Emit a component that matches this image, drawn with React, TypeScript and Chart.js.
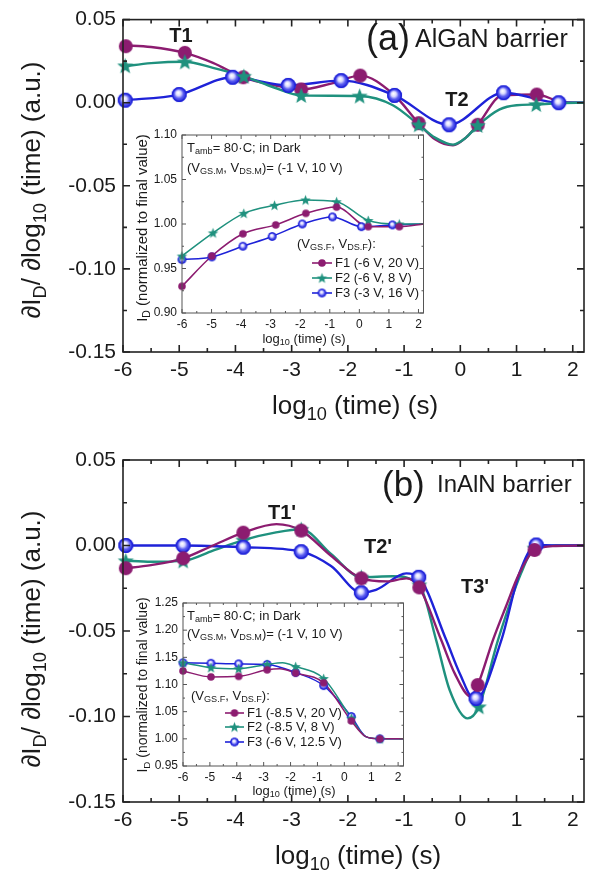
import React, { useEffect, useRef } from 'react';
import { Chart, registerables } from 'chart.js';
Chart.register(...registerables);

const FONT = "'Liberation Sans', Arial, Helvetica, sans-serif";
const PURPLE = '#8c1c70';
const GREEN = '#1f917e';
const BLUE = '#1e22d8';
const INK = '#1a1a1a';

// ---------- tick labels ----------
const mainXTicks = [-6, -5, -4, -3, -2, -1, 0, 1, 2];
const mainYTicks = [-0.15, -0.1, -0.05, 0, 0.05];
const insetXTicks = [-6, -5, -4, -3, -2, -1, 0, 1, 2];
const insetAYTicks = [0.9, 0.95, 1.0, 1.05, 1.1];
const insetBYTicks = [0.95, 1.0, 1.05, 1.1, 1.15, 1.2, 1.25];

const legendALabels = ['F1 (-6 V, 20 V)', 'F2 (-6 V, 8 V)', 'F3 (-3 V, 16 V)'];
const legendBLabels = ['F1 (-8.5 V, 20 V)', 'F2 (-8.5 V, 8 V)', 'F3 (-6 V, 12.5 V)'];

// ---------- panel (a) AlGaN main ----------
const aF1MarkX = [-5.95, -4.9, -3.86, -2.83, -1.78, -0.74, 0.31, 1.36];
const aF1MarkY = [0.034, 0.030, 0.0153, 0.008, 0.0163, -0.0123, -0.0133, 0.0049];
const aF1LineX = [-6, -5.5, -4.9, -4.4, -3.86, -3.3, -2.83, -2.3, -1.78, -1.2, -0.74, -0.45, -0.13, 0.1, 0.31, 0.75, 1.36, 1.8, 2.2];
const aF1LineY = [0.0345, 0.0335, 0.030, 0.024, 0.0153, 0.0105, 0.008, 0.0115, 0.0163, 0.0054, -0.0123, -0.022, -0.0256, -0.021, -0.0133, 0.0045, 0.0049, 0.0005, 0];

const aF2MarkX = [-5.96, -4.9, -3.85, -2.83, -1.79, -0.74, 0.31, 1.35];
const aF2MarkY = [0.0222, 0.0246, 0.0159, 0.0044, 0.004, -0.0133, -0.0137, -0.0011];
const aF2LineX = [-6, -5.5, -4.9, -4.4, -3.85, -3.3, -2.83, -2.3, -1.79, -1.2, -0.74, -0.45, -0.13, 0.1, 0.31, 0.7, 1.0, 1.35, 1.8, 2.2];
const aF2LineY = [0.0218, 0.0238, 0.0246, 0.021, 0.0159, 0.009, 0.0044, 0.0042, 0.004, -0.0015, -0.0133, -0.021, -0.0252, -0.021, -0.0137, -0.004, -0.0015, -0.0011, -0.0002, 0];

const aF3MarkX = [-5.96, -5.0, -4.05, -3.06, -2.12, -1.17, -0.2, 0.77, 1.75];
const aF3MarkY = [0.0015, 0.0049, 0.0153, 0.0104, 0.0133, 0.0044, -0.0133, 0.006, 0.0];
const aF3LineX = [-6, -5.0, -4.05, -3.06, -2.12, -1.17, -0.2, 0.77, 1.75, 2.2];
const aF3LineY = [0.0014, 0.0049, 0.0153, 0.0104, 0.0133, 0.0044, -0.0133, 0.006, 0.0, 0];

// ---------- panel (b) InAlN main ----------
const bF1MarkX = [-5.95, -4.93, -3.86, -2.83, -1.76, -0.73, 0.31, 1.32];
const bF1MarkY = [-0.0133, -0.0075, 0.0075, 0.0087, -0.0192, -0.0245, -0.0816, -0.0026];
const bF1LineX = [-6, -5.5, -4.93, -4.4, -3.86, -3.27, -2.83, -2.3, -1.76, -1.3, -0.96, -0.73, -0.34, -0.1, 0.19, 0.31, 0.58, 0.81, 1.05, 1.32, 1.7, 2.2];
const bF1LineY = [-0.0135, -0.0115, -0.0075, 0.0, 0.0075, 0.0125, 0.0087, -0.006, -0.0192, -0.021, -0.0192, -0.0245, -0.0553, -0.0748, -0.0884, -0.0816, -0.0553, -0.0358, -0.0163, -0.0026, -0.0003, 0];

const bF2MarkX = [-5.95, -4.93, -3.86, -2.83, -1.76, -0.73, 0.33, 1.32];
const bF2MarkY = [-0.0089, -0.009, 0.0032, 0.0095, -0.0185, -0.023, -0.0943, -0.0015];
const bF2LineX = [-6, -5.5, -4.93, -4.4, -3.86, -3.3, -2.83, -2.3, -1.76, -1.2, -0.73, -0.43, -0.19, 0.13, 0.33, 0.67, 1.08, 1.32, 1.7, 2.2];
const bF2LineY = [-0.0088, -0.0095, -0.009, -0.003, 0.0032, 0.0075, 0.0095, -0.005, -0.0185, -0.018, -0.023, -0.0553, -0.0845, -0.1011, -0.0943, -0.0553, -0.0163, -0.0015, 0, 0];

const bF3MarkX = [-5.95, -4.93, -3.86, -2.83, -1.76, -0.74, 0.28, 1.35];
const bF3MarkY = [0.0, 0.0, -0.001, -0.0036, -0.0276, -0.0186, -0.0895, 0.0003];
const bF3LineX = [-6, -4.93, -3.86, -2.83, -2.3, -1.76, -1.5, -0.96, -0.74, -0.25, -0.01, 0.26, 0.73, 1.05, 1.35, 1.7, 2.2];
const bF3LineY = [0, 0, -0.001, -0.0036, -0.012, -0.0276, -0.026, -0.0163, -0.0186, -0.0553, -0.0748, -0.0905, -0.0553, -0.0163, 0.0003, 0, 0];

// ---------- inset (a) ----------
const iaF1MarkX = [-6.0, -4.99, -3.94, -2.83, -1.81, -0.77, 0.30, 1.35];
const iaF1MarkY = [0.930, 0.964, 0.989, 0.999, 1.012, 1.019, 0.997, 0.997];
const iaF1LineX = [-6.0, -4.99, -3.94, -2.83, -1.81, -0.77, 0.30, 1.35, 2.2];
const iaF1LineY = [0.930, 0.964, 0.989, 0.999, 1.012, 1.019, 0.997, 0.997, 1.0];

const iaF2MarkX = [-6.0, -4.95, -3.91, -2.87, -1.82, -0.77, 0.30, 1.35];
const iaF2MarkY = [0.964, 0.990, 1.012, 1.021, 1.027, 1.025, 1.004, 1.000];
const iaF2LineX = [-6.0, -4.95, -3.91, -2.87, -1.82, -0.77, 0.30, 1.35, 2.2];
const iaF2LineY = [0.964, 0.990, 1.012, 1.021, 1.027, 1.025, 1.004, 1.000, 1.0];

const iaF3MarkX = [-6.0, -4.99, -3.94, -2.95, -1.93, -0.91, 0.07, 1.12];
const iaF3MarkY = [0.960, 0.963, 0.975, 0.986, 1.000, 1.008, 0.997, 0.999];
const iaF3LineX = [-6.0, -4.99, -3.94, -2.95, -1.93, -0.91, 0.07, 1.12, 2.2];
const iaF3LineY = [0.960, 0.963, 0.975, 0.986, 1.000, 1.008, 0.997, 0.999, 1.0];

// ---------- inset (b) ----------
const ibMarkX = [-6, -4.96, -3.93, -2.87, -1.81, -0.77, 0.26, 1.32];
const ibF1MarkY = [1.125, 1.114, 1.115, 1.127, 1.121, 1.103, 1.033, 1.0];
const ibF2MarkY = [1.14, 1.131, 1.129, 1.137, 1.133, 1.111, 1.038, 1.0];
const ibF3MarkY = [1.14, 1.139, 1.138, 1.137, 1.122, 1.098, 1.041, 1.0];
const ibF1LineX = [-6, -4.96, -3.93, -2.87, -2.4, -1.81, -0.77, 0.26, 0.8, 1.32, 2.2];
const ibF1LineY = [1.125, 1.114, 1.115, 1.127, 1.129, 1.121, 1.103, 1.033, 1.004, 1.0, 1.0];
const ibF2LineX = [-6, -4.96, -3.93, -2.87, -2.3, -1.81, -0.77, 0.26, 0.8, 1.32, 2.2];
const ibF2LineY = [1.14, 1.131, 1.129, 1.137, 1.14, 1.133, 1.111, 1.038, 1.004, 1.0, 1.0];
const ibF3LineX = [-6, -4.96, -3.93, -2.87, -1.81, -0.77, 0.26, 0.8, 1.32, 2.2];
const ibF3LineY = [1.14, 1.139, 1.138, 1.137, 1.122, 1.098, 1.041, 1.004, 1.0, 1.0];

const zip = (xs: number[], ys: number[]) => xs.map((x, i) => ({ x, y: ys[i] }));

// ---------- marker images ----------
function makeCanvas(s: number) {
  const c = document.createElement('canvas');
  c.width = s; c.height = s;
  return c;
}
function dotImg(r: number, color: string) {
  const s = Math.ceil(2 * r + 2);
  const c = makeCanvas(s);
  const g = c.getContext('2d')!;
  g.fillStyle = color;
  g.beginPath(); g.arc(s / 2, s / 2, r, 0, Math.PI * 2); g.fill();
  return c;
}
function ballImg(r: number, color: string) {
  const s = Math.ceil(2 * r + 2);
  const c = makeCanvas(s);
  const g = c.getContext('2d')!;
  const cx = s / 2, cy = s / 2;
  const grad = g.createRadialGradient(cx - r * 0.15, cy - r * 0.25, r * 0.05, cx, cy, r);
  grad.addColorStop(0, '#ffffff');
  grad.addColorStop(0.3, '#d8d8ff');
  grad.addColorStop(0.6, '#5a5cf0');
  grad.addColorStop(1, color);
  g.fillStyle = grad;
  g.beginPath(); g.arc(cx, cy, r, 0, Math.PI * 2); g.fill();
  g.strokeStyle = color; g.lineWidth = Math.max(1, r * 0.18);
  g.beginPath(); g.arc(cx, cy, r - g.lineWidth / 2, 0, Math.PI * 2); g.stroke();
  return c;
}
function starImg(r: number, color: string) {
  const s = Math.ceil(2 * r + 2);
  const c = makeCanvas(s);
  const g = c.getContext('2d')!;
  const cx = s / 2, cy = s / 2 + r * 0.08;
  g.fillStyle = color;
  g.beginPath();
  for (let i = 0; i < 10; i++) {
    const rr = i % 2 === 0 ? r : r * 0.42;
    const ang = -Math.PI / 2 + (i * Math.PI) / 5;
    const px = cx + rr * Math.cos(ang), py = cy + rr * Math.sin(ang);
    if (i === 0) g.moveTo(px, py); else g.lineTo(px, py);
  }
  g.closePath(); g.fill();
  return c;
}

// ---------- plugins ----------
type FrameOpts = { xMinor: number; xMajor: number; yMinor: number; yMajor: number; major: number; minor: number; lw: number; color: string };
function framePlugin(o: FrameOpts) {
  return {
    id: 'frame',
    afterDatasetsDraw(chart: any) {
      const { ctx, chartArea: a } = chart;
      const xs = chart.scales.x, ys = chart.scales.y;
      ctx.save();
      ctx.strokeStyle = o.color; ctx.lineWidth = o.lw;
      const walk = (min: number, max: number, minor: number, major: number, fn: (v: number, len: number) => void) => {
        const k0 = Math.ceil(min / minor - 1e-6), k1 = Math.floor(max / minor + 1e-6);
        const ratio = Math.round(major / minor);
        for (let k = k0; k <= k1; k++) {
          const isMajor = ((k % ratio) + ratio) % ratio === 0;
          fn(k * minor, isMajor ? o.major : o.minor);
        }
      };
      ctx.beginPath();
      walk(xs.min, xs.max, o.xMinor, o.xMajor, (v, len) => {
        const p = xs.getPixelForValue(v);
        ctx.moveTo(p, a.bottom); ctx.lineTo(p, a.bottom - len);
        ctx.moveTo(p, a.top); ctx.lineTo(p, a.top + len);
      });
      walk(ys.min, ys.max, o.yMinor, o.yMajor, (v, len) => {
        const p = ys.getPixelForValue(v);
        ctx.moveTo(a.left, p); ctx.lineTo(a.left + len, p);
        ctx.moveTo(a.right, p); ctx.lineTo(a.right - len, p);
      });
      ctx.stroke();
      ctx.strokeRect(a.left, a.top, a.right - a.left, a.bottom - a.top);
      ctx.restore();
    },
  };
}
type LegendItem = { label: string; color: string; img: HTMLCanvasElement };
function legendPlugin(items: LegendItem[], x0: number, x1: number, tx: number, ys: number[], size: number) {
  return {
    id: 'insetLegend',
    afterDraw(chart: any) {
      const ctx = chart.ctx;
      ctx.save();
      ctx.font = `${size}px ${FONT}`;
      ctx.fillStyle = INK;
      ctx.textBaseline = 'middle';
      items.forEach((it, i) => {
        const y = ys[i];
        ctx.strokeStyle = it.color; ctx.lineWidth = 1.6;
        ctx.beginPath(); ctx.moveTo(x0, y); ctx.lineTo(x1, y); ctx.stroke();
        ctx.drawImage(it.img, (x0 + x1) / 2 - it.img.width / 2, y - it.img.height / 2);
        ctx.fillText(it.label, tx, y + 0.5);
      });
      ctx.restore();
    },
  };
}

type Series = { lineX: number[]; lineY: number[]; markX: number[]; markY: number[]; color: string; img: HTMLCanvasElement; lw: number };
type Spec = {
  xMin: number; xMax: number; yMin: number; yMax: number;
  xTicks: number[]; yTicks: number[];
  yAxisWidth: number; xAxisHeight: number; padTop: number; padRight: number;
  tickSize: number; xPad: number; yPad: number;
  frame: FrameOpts; series: Series[]; markerOrder: number[];
  extra?: any[];
};

function buildChart(canvas: HTMLCanvasElement, sp: Spec) {
  const datasets: any[] = [];
  // first dataset drawn on top
  sp.markerOrder.forEach((i) => {
    const s = sp.series[i];
    datasets.push({
      data: zip(s.markX, s.markY), showLine: false, pointStyle: s.img,
      pointRadius: s.img.width / 2, borderWidth: 0, clip: false,
    });
  });
  sp.markerOrder.forEach((i) => {
    const s = sp.series[i];
    datasets.push({
      data: zip(s.lineX, s.lineY), borderColor: s.color, borderWidth: s.lw,
      pointRadius: 0, cubicInterpolationMode: 'monotone', fill: false,
    });
  });
  return new Chart(canvas, {
    type: 'line',
    data: { datasets },
    options: {
      animation: false, responsive: false, devicePixelRatio: 1,
      events: [],
      layout: { padding: { top: sp.padTop, right: sp.padRight, left: 0, bottom: 0 } },
      plugins: { legend: { display: false }, tooltip: { enabled: false } },
      scales: {
        x: {
          type: 'linear', min: sp.xMin, max: sp.xMax,
          grid: { display: false, drawTicks: false }, border: { display: false },
          afterBuildTicks: (s: any) => { s.ticks = sp.xTicks.map((v) => ({ value: v })); },
          afterFit: (s: any) => { s.height = sp.xAxisHeight; },
          ticks: {
            font: { family: FONT, size: sp.tickSize }, color: INK, padding: sp.xPad,
            maxRotation: 0, autoSkip: false, callback: (v: any) => String(Math.round(Number(v))),
          },
        },
        y: {
          type: 'linear', min: sp.yMin, max: sp.yMax,
          grid: { display: false, drawTicks: false }, border: { display: false },
          afterBuildTicks: (s: any) => { s.ticks = sp.yTicks.map((v) => ({ value: v })); },
          afterFit: (s: any) => { s.width = sp.yAxisWidth; },
          ticks: {
            font: { family: FONT, size: sp.tickSize }, color: INK, padding: sp.yPad,
            autoSkip: false, callback: (v: any) => Number(v).toFixed(2),
          },
        },
      },
    } as any,
    plugins: [framePlugin(sp.frame), ...(sp.extra || [])],
  });
}

// ---------- HTML text helpers ----------
const Sub = ({ children }: { children: any }) => (
  <sub style={{ fontSize: '0.7em', verticalAlign: '-0.32em', lineHeight: 0 }}>{children}</sub>
);
type TP = { x: number; y: number; size: number; bold?: boolean; rot?: boolean; left?: boolean; children: any };
const Txt = ({ x, y, size, bold, rot, left, children }: TP) => (
  <div
    style={{
      position: 'absolute', left: x, top: y,
      transform: `translate(${left ? '0' : '-50%'}, -50%)${rot ? ' rotate(-90deg)' : ''}`,
      fontSize: size, fontWeight: bold ? 700 : 400, whiteSpace: 'nowrap', lineHeight: 1,
      fontFamily: FONT, color: INK,
    }}
  >
    {children}
  </div>
);

export default function App() {
  const refA = useRef<HTMLCanvasElement>(null);
  const refB = useRef<HTMLCanvasElement>(null);
  const refIA = useRef<HTMLCanvasElement>(null);
  const refIB = useRef<HTMLCanvasElement>(null);

  useEffect(() => {
    const mainDot = dotImg(7, PURPLE), mainStar = starImg(8.5, GREEN), mainBall = ballImg(7.5, BLUE);
    const inDot = dotImg(3.8, PURPLE), inStar = starImg(5.5, GREEN), inBall = ballImg(4.3, BLUE);
    const mainFrame: FrameOpts = { xMinor: 0.5, xMajor: 1, yMinor: 0.025, yMajor: 0.05, major: 7, minor: 4, lw: 1.6, color: '#222' };
    const insetFrame: FrameOpts = { xMinor: 0.5, xMajor: 1, yMinor: 0.025, yMajor: 0.05, major: 4, minor: 2, lw: 1, color: '#555' };

    const charts: Chart[] = [];
    charts.push(buildChart(refA.current!, {
      xMin: -6, xMax: 2.2, yMin: -0.15, yMax: 0.05, xTicks: mainXTicks, yTicks: mainYTicks,
      yAxisWidth: 123, xAxisHeight: 84, padTop: 14, padRight: 12, tickSize: 21, xPad: 6, yPad: 7,
      frame: mainFrame,
      series: [
        { lineX: aF1LineX, lineY: aF1LineY, markX: aF1MarkX, markY: aF1MarkY, color: PURPLE, img: mainDot, lw: 2.4 },
        { lineX: aF2LineX, lineY: aF2LineY, markX: aF2MarkX, markY: aF2MarkY, color: GREEN, img: mainStar, lw: 2.4 },
        { lineX: aF3LineX, lineY: aF3LineY, markX: aF3MarkX, markY: aF3MarkY, color: BLUE, img: mainBall, lw: 2.4 },
      ],
      markerOrder: [1, 2, 0],
    }));
    charts.push(buildChart(refB.current!, {
      xMin: -6, xMax: 2.2, yMin: -0.15, yMax: 0.05, xTicks: mainXTicks, yTicks: mainYTicks,
      yAxisWidth: 123, xAxisHeight: 71, padTop: 24, padRight: 12, tickSize: 21, xPad: 6, yPad: 7,
      frame: mainFrame,
      series: [
        { lineX: bF1LineX, lineY: bF1LineY, markX: bF1MarkX, markY: bF1MarkY, color: PURPLE, img: mainDot, lw: 2.4 },
        { lineX: bF2LineX, lineY: bF2LineY, markX: bF2MarkX, markY: bF2MarkY, color: GREEN, img: mainStar, lw: 2.4 },
        { lineX: bF3LineX, lineY: bF3LineY, markX: bF3MarkX, markY: bF3MarkY, color: BLUE, img: mainBall, lw: 2.4 },
      ],
      markerOrder: [0, 2, 1],
    }));
    charts.push(buildChart(refIA.current!, {
      xMin: -6, xMax: 2.17, yMin: 0.9, yMax: 1.1, xTicks: insetXTicks, yTicks: insetAYTicks,
      yAxisWidth: 52, xAxisHeight: 35, padTop: 13, padRight: 6, tickSize: 12, xPad: 4, yPad: 5,
      frame: insetFrame,
      series: [
        { lineX: iaF1LineX, lineY: iaF1LineY, markX: iaF1MarkX, markY: iaF1MarkY, color: PURPLE, img: inDot, lw: 1.5 },
        { lineX: iaF2LineX, lineY: iaF2LineY, markX: iaF2MarkX, markY: iaF2MarkY, color: GREEN, img: inStar, lw: 1.5 },
        { lineX: iaF3LineX, lineY: iaF3LineY, markX: iaF3MarkX, markY: iaF3MarkY, color: BLUE, img: inBall, lw: 1.5 },
      ],
      markerOrder: [0, 1, 2],
      extra: [legendPlugin(
        [
          { label: legendALabels[0], color: PURPLE, img: inDot },
          { label: legendALabels[1], color: GREEN, img: inStar },
          { label: legendALabels[2], color: BLUE, img: inBall },
        ], 182, 202, 205, [141, 156, 171], 13)],
    }));
    charts.push(buildChart(refIB.current!, {
      xMin: -6, xMax: 2.2, yMin: 0.95, yMax: 1.25, xTicks: insetXTicks, yTicks: insetBYTicks,
      yAxisWidth: 53, xAxisHeight: 29, padTop: 13, padRight: 5, tickSize: 12, xPad: 4, yPad: 5,
      frame: insetFrame,
      series: [
        { lineX: ibF1LineX, lineY: ibF1LineY, markX: ibMarkX, markY: ibF1MarkY, color: PURPLE, img: inDot, lw: 1.5 },
        { lineX: ibF2LineX, lineY: ibF2LineY, markX: ibMarkX, markY: ibF2MarkY, color: GREEN, img: inStar, lw: 1.5 },
        { lineX: ibF3LineX, lineY: ibF3LineY, markX: ibMarkX, markY: ibF3MarkY, color: BLUE, img: inBall, lw: 1.5 },
      ],
      markerOrder: [0, 1, 2],
      extra: [legendPlugin(
        [
          { label: legendBLabels[0], color: PURPLE, img: inDot },
          { label: legendBLabels[1], color: GREEN, img: inStar },
          { label: legendBLabels[2], color: BLUE, img: inBall },
        ], 95, 114, 117, [123, 137, 152], 13)],
    }));
    return () => charts.forEach((c) => c.destroy());
  }, []);

  const cv = (l: number, t: number, w: number, h: number): React.CSSProperties => ({
    position: 'absolute', left: l, top: t, width: w, height: h,
  });

  return (
    <div style={{ position: 'absolute', left: 0, top: 0, width: 596, height: 873, background: '#fff', overflow: 'hidden' }}>
      <canvas ref={refA} width={596} height={436} style={cv(0, 0, 596, 436)} />
      <canvas ref={refB} width={596} height={437} style={cv(0, 436, 596, 437)} />
      <canvas ref={refIA} width={300} height={226} style={cv(130, 122, 300, 226)} />
      <canvas ref={refIB} width={280} height={205} style={cv(130, 590, 280, 205)} />

      {/* panel (a) */}
      <Txt x={31} y={190} size={26} rot>∂I<Sub>D</Sub>/ ∂log<Sub>10</Sub> (time) (a.u.)</Txt>
      <Txt x={355} y={405} size={26}>log<Sub>10</Sub> (time) (s)</Txt>
      <Txt x={181} y={35} size={20} bold>T1</Txt>
      <Txt x={457} y={99} size={20} bold>T2</Txt>
      <Txt x={366} y={38} size={36} left>(a)</Txt>
      <Txt x={415} y={38} size={25} left>AlGaN barrier</Txt>

      <Txt x={141} y={228} size={15} rot>I<Sub>D</Sub> (normalized to final value)</Txt>
      <Txt x={304} y={338} size={13}>log<Sub>10</Sub> (time) (s)</Txt>
      <Txt x={187} y={147} size={13} left>T<Sub>amb</Sub>= 80·C; in Dark</Txt>
      <Txt x={187} y={167} size={13} left>(V<Sub>GS.M</Sub>, V<Sub>DS.M</Sub>)= (-1 V, 10 V)</Txt>
      <Txt x={297} y={243} size={13} left>(V<Sub>GS.F</Sub>, V<Sub>DS.F</Sub>):</Txt>

      {/* panel (b) */}
      <Txt x={31} y={639} size={26} rot>∂I<Sub>D</Sub>/ ∂log<Sub>10</Sub> (time) (a.u.)</Txt>
      <Txt x={358} y={855} size={26}>log<Sub>10</Sub> (time) (s)</Txt>
      <Txt x={282} y={512} size={20} bold>T1'</Txt>
      <Txt x={378} y={546} size={20} bold>T2'</Txt>
      <Txt x={475} y={586} size={20} bold>T3'</Txt>
      <Txt x={382} y={483} size={35} left>(b)</Txt>
      <Txt x={437} y={484} size={24} left>InAlN barrier</Txt>

      <Txt x={142} y={685} size={14} rot>I<Sub>D</Sub> (normalized to final value)</Txt>
      <Txt x={294} y={790} size={13}>log<Sub>10</Sub> (time) (s)</Txt>
      <Txt x={187} y={615} size={13} left>T<Sub>amb</Sub>= 80·C; in Dark</Txt>
      <Txt x={187} y={633} size={13} left>(V<Sub>GS.M</Sub>, V<Sub>DS.M</Sub>)= (-1 V, 10 V)</Txt>
      <Txt x={191} y={695} size={13} left>(V<Sub>GS.F</Sub>, V<Sub>DS.F</Sub>):</Txt>
    </div>
  );
}
